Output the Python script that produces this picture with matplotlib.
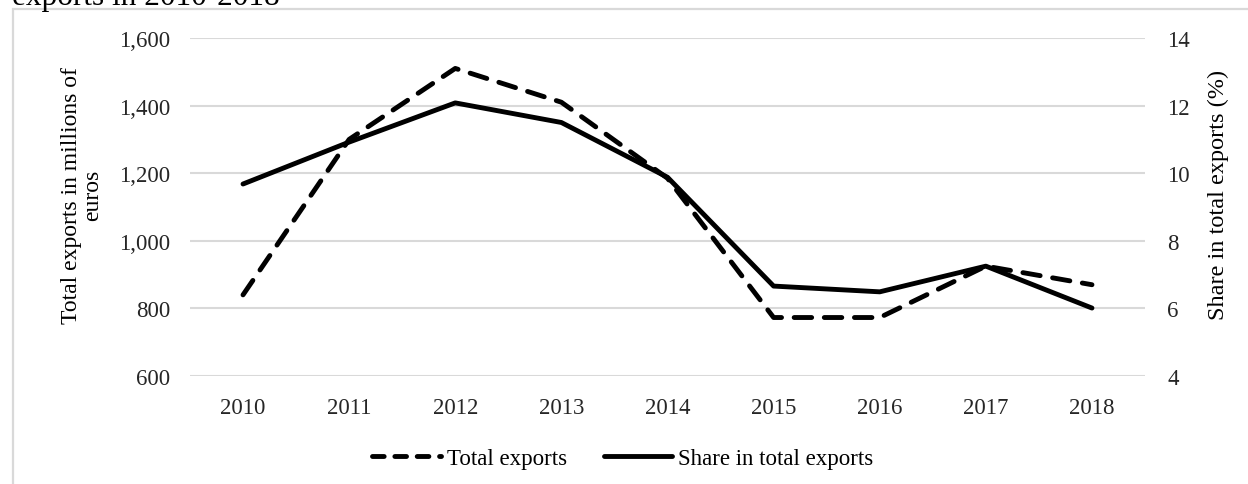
import matplotlib.pyplot as plt
from matplotlib.lines import Line2D
from matplotlib.patches import Rectangle

plt.rcParams['font.family'] = ['Liberation Serif', 'DejaVu Serif']

years = ['2010', '2011', '2012', '2013', '2014', '2015', '2016', '2017', '2018']
total_exports = [840, 1300, 1510, 1410, 1185, 773, 773, 925, 870]
share_exports = [9.68, 10.92, 12.08, 11.5, 9.88, 6.66, 6.49, 7.25, 6.01]

left_ticks = [600, 800, 1000, 1200, 1400, 1600]
right_ticks = [4, 6, 8, 10, 12, 14]

fig = plt.figure(figsize=(12.48, 4.85), dpi=100)
ax = fig.add_axes([0.1522, 0.2227, 0.9175 - 0.1522, 0.9196 - 0.2227])
ax2 = ax.twinx()

x = list(range(len(years)))
ax.plot(x, total_exports, color='black', lw=3.5,
        linestyle=(0, (3.6, 2.6)), dash_capstyle='round',
        solid_joinstyle='round', zorder=3)
ax2.plot(x, share_exports, color='black', lw=3.5,
         solid_capstyle='round', solid_joinstyle='round', zorder=3)
ax2.set_zorder(ax.get_zorder() - 1)
ax.patch.set_visible(False)

ax.set_xlim(-0.5, len(years) - 0.5)
ax.set_ylim(600, 1600)
ax2.set_ylim(4, 14)
ax.set_yticks(left_ticks)
ax.set_yticklabels([f'{v:,}' for v in left_ticks])
ax2.set_yticks(right_ticks)
ax.set_xticks(x)
ax.set_xticklabels(years)

for a in (ax, ax2):
    for s in a.spines.values():
        s.set_visible(False)
    a.tick_params(length=0, labelsize=16.5, colors='#262626')
ax.tick_params(axis='y', pad=14)
ax2.tick_params(axis='y', pad=16)
ax.tick_params(axis='x', pad=15)

ax2.yaxis.grid(True, color='#d9d9d9', lw=1.5)
ax2.set_axisbelow(True)

ax.set_ylabel('Total exports in millions of\neuros', fontsize=17,
              linespacing=1.0)
ax.yaxis.set_label_coords(-0.091, 0.538)
ax2.set_ylabel('Share in total exports (%)', fontsize=17.5)
ax2.yaxis.set_label_coords(1.066, 0.538)

h1 = Line2D([], [], color='black', lw=3.5, linestyle=(0, (2.4, 2.2)),
            dash_capstyle='round')
h2 = Line2D([], [], color='black', lw=3.5, solid_capstyle='round')
fig.legend([h1, h2], ['Total exports', 'Share in total exports'],
           loc='center', bbox_to_anchor=(0.499, 0.052), ncol=2, frameon=False,
           fontsize=16.5, handlelength=3.0, handletextpad=0.25,
           columnspacing=1.6)

fig.text(12 / 1248, 1 - 5 / 485, 'exports in 2010-2018', fontsize=22.5,
         ha='left', va='baseline')

fig.patches.append(Rectangle((12.5 / 1248, -0.1), 1.2, 1.1 - 10 / 485,
                             transform=fig.transFigure, fill=False,
                             edgecolor='#d9d9d9', lw=1.6))

fig.savefig('out.png', dpi=100)
